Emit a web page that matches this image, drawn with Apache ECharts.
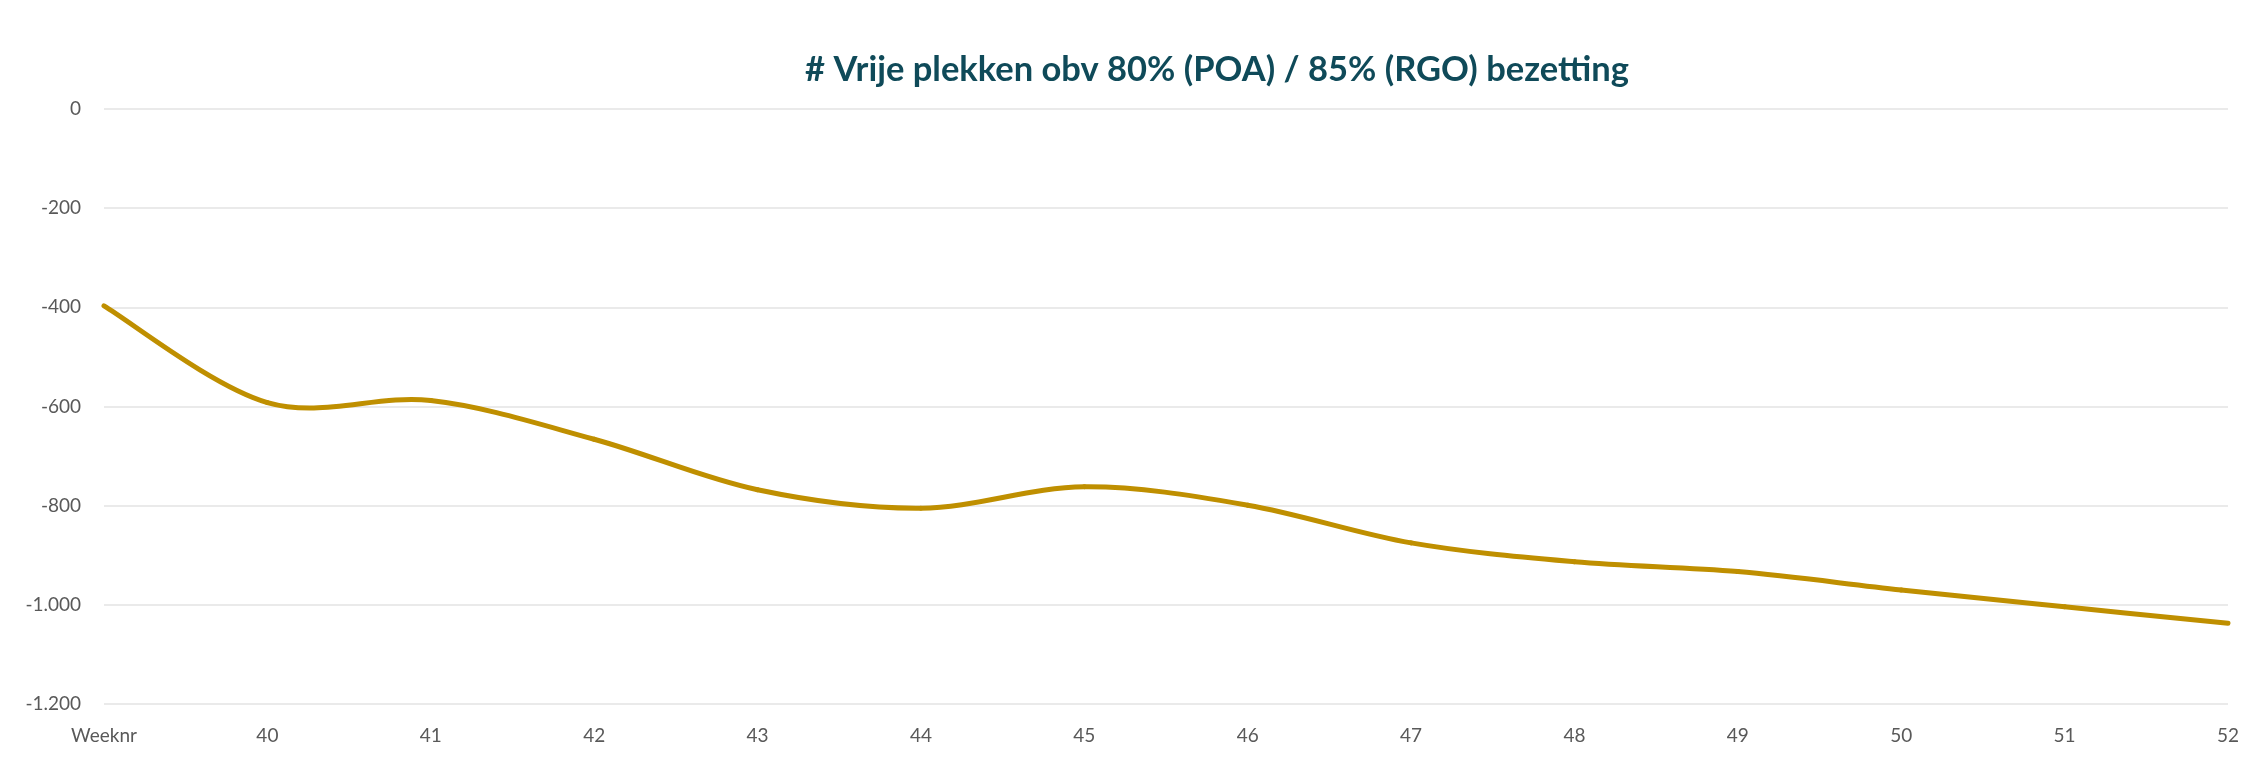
<!DOCTYPE html>
<html>
<head>
<meta charset="utf-8">
<script src="https://cdn.jsdelivr.net/npm/echarts@6/dist/echarts.min.js"></script>
<style>
  html, body { margin: 0; padding: 0; background: #fff; }
  #chart { width: 2257px; height: 763px; }
</style>
</head>
<body>
<div id="chart"></div>
<script>
// categories on the x axis (first one is the axis caption in the original)
const weeks = ["Weeknr", "40", "41", "42", "43", "44", "45", "46", "47", "48", "49", "50", "51", "52"];
// free places per week
const vrijePlekken = [-397, -592, -588, -666, -768, -805, -762, -799, -875, -913, -933, -970, -1004, -1037];

const titleText = "# Vrije plekken obv 80% (POA) / 85% (RGO) bezetting";

// dutch number format: -1.000
const fmt = (v) => {
  const s = String(Math.abs(v)).replace(/\B(?=(\d{3})+(?!\d))/g, ".");
  return (v < 0 ? "-" : "") + s;
};

// excel style smoothed segment (catmull-rom like), drawn from axis coords
const renderSegment = (params, api) => {
  const i = params.dataIndex;
  const n = vrijePlekken.length;
  if (i >= n - 1) return;
  const pt = (k) => {
    k = Math.max(0, Math.min(n - 1, k));
    return api.coord([k, vrijePlekken[k]]);
  };
  const p0 = pt(i - 1), p1 = pt(i), p2 = pt(i + 1), p3 = pt(i + 2);
  const c1x = p1[0] + (p2[0] - p0[0]) / 6;
  const c1y = p1[1] + (p2[1] - p0[1]) / 6;
  const c2x = p2[0] - (p3[0] - p1[0]) / 6;
  const c2y = p2[1] - (p3[1] - p1[1]) / 6;
  return {
    type: "path",
    shape: {
      pathData: "M" + p1[0] + " " + p1[1] +
        " C" + c1x + " " + c1y + " " + c2x + " " + c2y + " " + p2[0] + " " + p2[1],
    },
    style: {
      fill: "none",
      stroke: "#BF8F00",
      lineWidth: 5,
      lineCap: "round",
    },
  };
};

var chartDom = document.getElementById("chart");
var myChart = echarts.init(chartDom);
var option;

option = {
  animation: false,
  title: {
    text: titleText,
    left: 1212,
    top: 47,
    textAlign: "center",
    textStyle: {
      fontFamily: "Lato",
      fontWeight: "bold",
      fontSize: 34.5,
      color: "#0F4A59",
    },
  },
  grid: {
    left: 104,
    right: 29,
    top: 109,
    bottom: 59,
    containLabel: false,
  },
  xAxis: {
    type: "category",
    data: weeks,
    boundaryGap: false,
    axisLine: { show: false },
    axisTick: { show: false },
    axisLabel: {
      color: "#595959",
      fontFamily: "Lato",
      fontSize: 19,
      margin: 22,
    },
  },
  yAxis: {
    type: "value",
    min: -1200,
    max: 0,
    interval: 200,
    axisLine: { show: false },
    axisTick: { show: false },
    splitLine: {
      lineStyle: { color: "#E3E3E3", width: 1.5 },
    },
    axisLabel: {
      color: "#595959",
      fontFamily: "Lato",
      fontSize: 19,
      margin: 23,
      formatter: fmt,
    },
  },
  series: [
    {
      name: "Vrije plekken",
      type: "custom",
      clip: false,
      renderItem: renderSegment,
      encode: { x: 0, y: 1 },
      data: vrijePlekken.map((v, i) => [i, v]),
    },
  ],
};

option && myChart.setOption(option);
</script>
</body>
</html>
